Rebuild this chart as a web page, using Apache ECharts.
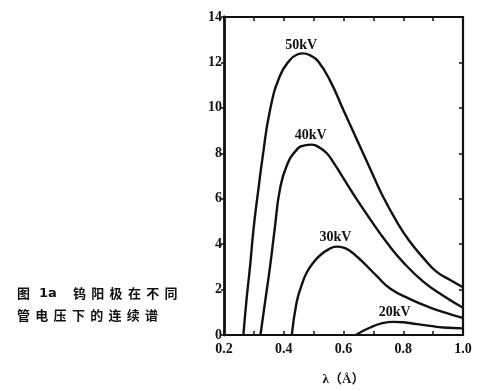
<!DOCTYPE html>
<html>
<head>
<meta charset="utf-8">
<script src="https://cdn.jsdelivr.net/npm/echarts@6/dist/echarts.min.js"></script>
<style>
html,body{margin:0;padding:0;background:#fff;}
#chart{width:500px;height:391px;}
</style>
</head>
<body>
<div id="chart"></div>
<script>
// ---- data ----
const xTicks = [0.2, 0.4, 0.6, 0.8, 1.0];
const yTicks = [0, 2, 4, 6, 8, 10, 12, 14];

const lam50 = [0.265,0.275,0.287,0.300,0.315,0.330,0.354,0.387,0.420,0.445,0.465,0.490,0.515,0.555,0.600,0.645,0.690,0.730,0.780,0.820,0.870,0.910,0.960,1.000];
const val50 = [0,1.5,3.0,4.8,6.4,7.9,9.9,11.4,12.1,12.35,12.4,12.3,12.05,11.2,9.9,8.6,7.3,6.15,4.95,4.15,3.35,2.8,2.4,2.1];

const lam40 = [0.322,0.338,0.354,0.370,0.387,0.410,0.443,0.470,0.494,0.520,0.544,0.566,0.588,0.633,0.689,0.745,0.800,0.867,0.934,1.000];
const val40 = [0,1.5,3.0,4.7,6.4,7.45,8.15,8.35,8.38,8.25,8.0,7.6,7.15,6.2,5.1,4.07,3.2,2.35,1.73,1.2];

const lam30 = [0.427,0.443,0.460,0.477,0.500,0.521,0.550,0.577,0.600,0.622,0.645,0.666,0.711,0.756,0.823,0.890,0.956,1.000];
const val30 = [0,1.43,2.2,2.75,3.2,3.5,3.77,3.89,3.85,3.7,3.45,3.2,2.6,2.05,1.58,1.21,0.92,0.75];

const lam20 = [0.641,0.689,0.730,0.767,0.800,0.845,0.890,0.934,1.000];
const val20 = [0,0.33,0.52,0.58,0.56,0.48,0.40,0.33,0.29];

const seriesNames = ['50kV','40kV','30kV','20kV'];
const labelLam = [0.458,0.49,0.573,0.771];
const labelVal = [12.77,8.78,4.3,1.01];

const captionLine1 = ['图','1a','钨','阳','极','在','不','同'];
const captionLine2 = ['管','电','压','下','的','连','续','谱'];

// ---- chart ----
const serif = '"Liberation Serif","DejaVu Serif",serif';
const cjk = '"Noto Sans CJK SC",sans-serif';
const chart = echarts.init(document.getElementById('chart'), null, {renderer:'canvas'});
const lams = [lam50, lam40, lam30, lam20];
const vals = [val50, val40, val30, val20];

const series = seriesNames.map((n, i) => ({
  name: n,
  type: 'line',
  smooth: 0.5,
  showSymbol: false,
  xAxisIndex: 0, yAxisIndex: 0,
  lineStyle: {color:'#111', width:2.4},
  data: lams[i].map((x, j) => [x, vals[i][j]]),
  markPoint: {
    symbol: 'circle', symbolSize: 0,
    data: [{coord: [labelLam[i], labelVal[i]], value: n}],
    label: {show: true, position: 'inside', formatter: n, color: '#111',
            fontFamily: serif, fontWeight: 'bold', fontSize: 14}
  }
}));

const graphic = [];
const x1 = [17, 39, 73, 91.3, 109.6, 127.9, 146.2, 164.5];
captionLine1.forEach((c, i) => graphic.push({type:'text', left: x1[i], top: 287,
  style:{text:c, fill:'#111', fontSize: 13, fontWeight:'bold', fontFamily: c === '1a' ? '"DejaVu Sans",sans-serif' : cjk}}));
captionLine2.forEach((c, i) => graphic.push({type:'text', left: 17 + i*18.3, top: 309,
  style:{text:c, fill:'#111', fontSize: 13, fontWeight:'bold', fontFamily: cjk}}));

const xMinorFmt = v => {
  const r = Math.round(v*10);
  return r % 2 === 0 ? (r/10).toFixed(1) : '';
};

chart.setOption({
  animation: false,
  backgroundColor: '#fff',
  grid: {left: 224, right: 37, top: 17, bottom: 55, show: false},
  xAxis: [{
    type: 'value', min: 0.2, max: 1.0, interval: 0.1, position: 'bottom',
    name: 'λ（Å）', nameLocation: 'middle', nameGap: 38,
    nameTextStyle: {color:'#111', fontSize: 13, fontWeight:'bold', fontFamily: serif + ',"Noto Sans CJK SC"'},
    axisLine: {lineStyle: {color:'#111', width: 2.2}},
    axisTick: {inside: true, length: 4, lineStyle:{color:'#111', width:1.5}},
    axisLabel: {formatter: xMinorFmt, color:'#111', fontSize: 14, fontWeight:'bold', fontFamily: serif, margin: 7},
    splitLine: {show: false}
  },{
    type: 'value', min: 0.2, max: 1.0, interval: 0.1, position: 'top',
    axisLine: {onZero:false, lineStyle: {color:'#111', width: 2.2}},
    axisTick: {inside: true, length: 4, lineStyle:{color:'#111', width:1.5}},
    axisLabel: {show: false},
    splitLine: {show: false}
  }],
  yAxis: [{
    type: 'value', min: 0, max: 14, interval: 2, position: 'left',
    axisLine: {show: true, lineStyle: {color:'#111', width: 2.8}},
    axisTick: {show: true, inside: false, length: 3, lineStyle:{color:'#111', width:1.5}},
    axisLabel: {color:'#111', fontSize: 14, fontWeight:'bold', fontFamily: serif, margin: 2},
    splitLine: {show: false}
  },{
    type: 'value', min: 0, max: 14, interval: 2, position: 'right',
    axisLine: {show: true, onZero:false, lineStyle: {color:'#111', width: 2.2}},
    axisTick: {show: true, inside: true, length: 4, lineStyle:{color:'#111', width:1.5}},
    axisLabel: {show: false},
    splitLine: {show: false}
  }],
  series: series,
  graphic: graphic
});
</script>
</body>
</html>
